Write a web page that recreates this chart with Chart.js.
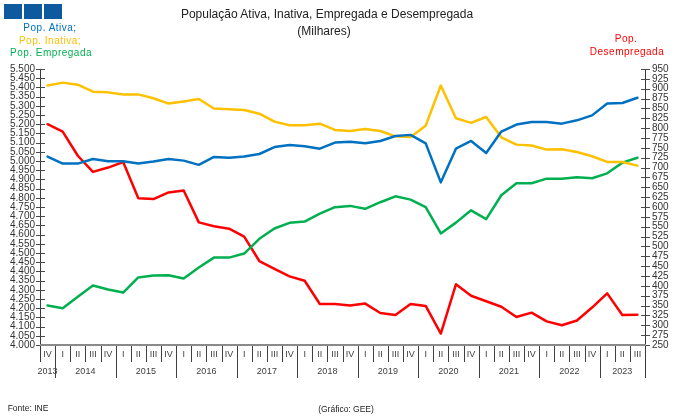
<!DOCTYPE html>
<html>
<head>
<meta charset="utf-8">
<script src="https://cdn.jsdelivr.net/npm/chart.js@4/dist/chart.umd.min.js"></script>
<style>
  html, body { margin: 0; padding: 0; background: #fff; }
  #wrap { position: relative; width: 680px; height: 419px; overflow: hidden; font-family: "Liberation Sans", Arial, sans-serif; }
  canvas { position: absolute; left: 0; top: 0; }
  .t { position: absolute; white-space: nowrap; transform: translate(-50%, -50%); line-height: 1; }
  .sq { position: absolute; top: 4px; width: 18px; height: 15px; background: #0E5A9E; }
</style>
</head>
<body>
<div id="wrap">
  <canvas id="c" width="680" height="419"></canvas>
  <div class="sq" style="left:4px"></div>
  <div class="sq" style="left:24px"></div>
  <div class="sq" style="left:44px"></div>
  <div class="t" style="left:327px;top:14px;font-size:12px;color:#222;">População Ativa, Inativa, Empregada e Desempregada</div>
  <div class="t" style="left:324px;top:31px;font-size:12px;color:#222;">(Milhares)</div>
  <div class="t" style="left:50px;top:28px;font-size:10px;letter-spacing:0.5px;color:#0070C0;">Pop. Ativa;</div>
  <div class="t" style="left:50px;top:41px;font-size:10px;letter-spacing:0.5px;color:#FFC000;">Pop. Inativa;</div>
  <div class="t" style="left:51px;top:53px;font-size:10px;letter-spacing:0.5px;color:#00B050;">Pop. Empregada</div>
  <div class="t" style="left:626px;top:39px;font-size:10px;letter-spacing:0.5px;color:#FF0000;">Pop.</div>
  <div class="t" style="left:627px;top:52px;font-size:10px;letter-spacing:0.5px;color:#FF0000;">Desempregada</div>
  <div class="t" style="left:28px;top:408px;font-size:8.5px;color:#222;">Fonte: INE</div>
  <div class="t" style="left:346px;top:409px;font-size:8.5px;color:#222;">(Gráfico: GEE)</div>
</div>
<script>
const quarterLabels = ['IV',
  'I','II','III','IV', 'I','II','III','IV', 'I','II','III','IV',
  'I','II','III','IV', 'I','II','III','IV', 'I','II','III','IV',
  'I','II','III','IV', 'I','II','III','IV', 'I','II','III','IV',
  'I','II','III'];
const yearLabels = ['2013','2014','2015','2016','2017','2018','2019','2020','2021','2022','2023'];

const popAtiva = [5024,4986,4986,5011,4999,4999,4986,4997,5011,5002,4979,5022,5018,5024,5038,5076,5087,5080,5067,5100,5104,5096,5109,5136,5142,5096,4884,5067,5109,5044,5160,5198,5212,5212,5203,5221,5248,5312,5315,5344];
const popInativa = [5410,5426,5415,5377,5373,5362,5362,5341,5312,5323,5337,5285,5281,5277,5257,5214,5194,5194,5203,5169,5163,5174,5163,5134,5131,5192,5410,5232,5207,5239,5129,5089,5084,5062,5064,5049,5026,4995,4995,4975];
const popEmpregada = [4215,4200,4262,4323,4302,4285,4367,4378,4379,4361,4421,4475,4475,4497,4577,4633,4664,4671,4714,4749,4756,4740,4776,4808,4790,4749,4606,4665,4732,4684,4814,4879,4879,4904,4904,4912,4906,4933,4991,5018];
const popDesempregada = [810,791,730,689,700,714,622,620,637,642,561,551,545,525,463,443,424,413,354,354,350,355,331,326,354,349,279,404,375,361,347,321,332,310,300,312,345,381,326,327];

const fmt = v => String(v).replace(/\B(?=(\d{3})+(?!\d))/g, '.');
const FONT = '"Liberation Sans", Arial, sans-serif';

const axesPlugin = {
  id: 'axesPlugin',
  beforeDatasetsDraw(chart) {
    const ctx = chart.ctx;
    const x = chart.scales.x, y = chart.scales.y, y1 = chart.scales.y1;
    const top = chart.chartArea.top, bottom = chart.chartArea.bottom;
    const L = chart.chartArea.left, R = chart.chartArea.right;
    ctx.save();
    ctx.strokeStyle = '#3a3a3a';
    ctx.lineWidth = 1;
    ctx.beginPath();
    ctx.moveTo(L + 0.5, top); ctx.lineTo(L + 0.5, bottom + 17);
    ctx.moveTo(R + 0.5, top); ctx.lineTo(R + 0.5, bottom + 33);
    ctx.stroke();
    ctx.strokeStyle = '#4a4a4a';
    ctx.beginPath();
    y.ticks.forEach(t => {
      const py = Math.round(y.getPixelForValue(t.value)) + 0.5;
      ctx.moveTo(L - 4, py); ctx.lineTo(L + 5, py);
    });
    y1.ticks.forEach(t => {
      const py = Math.round(y1.getPixelForValue(t.value)) + 0.5;
      ctx.moveTo(R - 4, py); ctx.lineTo(R + 5, py);
    });
    ctx.stroke();
    const n = quarterLabels.length;
    const bounds = [];
    for (let k = 0; k <= n; k++) {
      if (k === 0) bounds.push(x.left);
      else if (k === n) bounds.push(x.right);
      else bounds.push((x.getPixelForValue(k - 1) + x.getPixelForValue(k)) / 2);
    }
    ctx.strokeStyle = '#404040';
    ctx.beginPath();
    for (let k = 1; k < n; k++) {
      const bx = Math.round(bounds[k]) + 0.5;
      const isYear = quarterLabels[k] === 'I';
      ctx.moveTo(bx, bottom); ctx.lineTo(bx, bottom + (isYear ? 33 : 17));
    }
    ctx.stroke();
    ctx.strokeStyle = '#8a8a8a';
    ctx.lineWidth = 2;
    ctx.beginPath();
    ctx.moveTo(L, bottom); ctx.lineTo(R + 1, bottom);
    ctx.stroke();
    ctx.fillStyle = '#404040';
    ctx.font = '9px ' + FONT;
    ctx.textAlign = 'center';
    ctx.textBaseline = 'middle';
    quarterLabels.forEach((q, i) => {
      ctx.fillText(q, x.getPixelForValue(i), bottom + 10);
    });
    let yi = 0, start = 0;
    for (let k = 1; k <= n; k++) {
      if (k === n || quarterLabels[k] === 'I') {
        const cx = (x.getPixelForValue(start) + x.getPixelForValue(k - 1)) / 2;
        ctx.fillText(yearLabels[yi], cx, bottom + 27);
        yi++; start = k;
      }
    }
    ctx.restore();
  }
};

new Chart(document.getElementById('c'), {
  type: 'line',
  data: {
    labels: quarterLabels,
    datasets: [
      { label: 'Pop. Ativa', data: popAtiva, borderColor: '#0070C0', yAxisID: 'y' },
      { label: 'Pop. Inativa', data: popInativa, borderColor: '#FFC000', yAxisID: 'y' },
      { label: 'Pop. Empregada', data: popEmpregada, borderColor: '#00B050', yAxisID: 'y' },
      { label: 'Pop. Desempregada', data: popDesempregada, borderColor: '#FF0000', yAxisID: 'y1' }
    ]
  },
  options: {
    responsive: false,
    animation: false,
    devicePixelRatio: 1,
    layout: { padding: { top: 69, left: 0, right: 0, bottom: 0 } },
    elements: {
      line: { borderWidth: 2.5, tension: 0, borderJoinStyle: 'round', borderCapStyle: 'round' },
      point: { radius: 0, hoverRadius: 0 }
    },
    plugins: { legend: { display: false }, title: { display: false }, tooltip: { enabled: false } },
    scales: {
      x: {
        type: 'category', offset: true,
        grid: { display: false, drawTicks: false }, border: { display: false },
        ticks: { display: false },
        afterFit: s => { s.height = 74; }
      },
      y: {
        position: 'left', min: 4000, max: 5500,
        grid: { display: false, drawTicks: false }, border: { display: false },
        ticks: { stepSize: 50, autoSkip: false, padding: 5, color: '#333', font: { size: 10, family: FONT }, callback: v => fmt(v) },
        afterFit: s => { s.width = 40; }
      },
      y1: {
        position: 'right', min: 250, max: 950,
        grid: { display: false, drawTicks: false }, border: { display: false },
        ticks: { stepSize: 25, autoSkip: false, padding: 7, color: '#333', font: { size: 10, family: FONT } },
        afterFit: s => { s.width = 35; }
      }
    }
  },
  plugins: [axesPlugin]
});
</script>
</body>
</html>
